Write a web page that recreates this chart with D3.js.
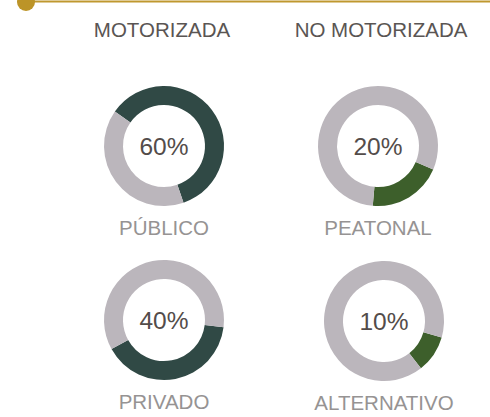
<!DOCTYPE html>
<html>
<head>
<meta charset="utf-8">
<script src="https://cdn.jsdelivr.net/npm/d3@7"></script>
<style>
  html, body { margin: 0; padding: 0; background: #fff; }
  svg { display: block; }
  text { font-family: "Liberation Sans", Arial, sans-serif; font-weight: 400; }
</style>
</head>
<body>
<svg id="chart" width="490" height="417"></svg>
<script>
// Modal split of trips, grouped by motorised / non-motorised
const groups = ["MOTORIZADA", "NO MOTORIZADA"];
const categories = ["PÚBLICO", "PRIVADO", "PEATONAL", "ALTERNATIVO"];
const categoryGroup = ["MOTORIZADA", "MOTORIZADA", "NO MOTORIZADA", "NO MOTORIZADA"];
const shares = [60, 40, 20, 10];

// Presentation
const groupColor = { "MOTORIZADA": "#304945", "NO MOTORIZADA": "#3d5f2b" };
const restColor = "#bbb6bc";
const arcStartDeg = [-55, 97, 113, 106];   // where each highlighted arc begins (clockwise from 12 o'clock)
const centerX = [164, 164, 378, 384];
const centerY = [146, 320, 146, 321];

const svg = d3.select("#chart");
const rOuter = 60, rInner = 41;

// Header rule with dot
svg.append("line")
  .attr("x1", 26).attr("x2", 490).attr("y1", 1.5).attr("y2", 1.5)
  .attr("stroke", "#bf982f").attr("stroke-width", 2);
svg.append("circle")
  .attr("cx", 26).attr("cy", 2).attr("r", 9).attr("fill", "#bc9428");

// Column headings
const colX = d3.scaleOrdinal().domain(groups).range([162, 381]);
svg.selectAll("text.group")
  .data(groups)
  .join("text")
  .attr("class", "group")
  .attr("x", d => colX(d))
  .attr("y", 37)
  .attr("text-anchor", "middle")
  .attr("font-size", 20.5)
  .attr("fill", "#5a5553")
  .text(d => d);

const arc = d3.arc().innerRadius(rInner).outerRadius(rOuter);
const rad = d => d * Math.PI / 180;

categories.forEach((cat, i) => {
  const v = shares[i];
  const a0 = rad(arcStartDeg[i]);
  const pie = d3.pie().sort(null).value(d => d.value)
    .startAngle(a0).endAngle(a0 + 2 * Math.PI);
  const slices = pie([
    { key: "share", value: v },
    { key: "rest", value: 100 - v }
  ]);

  const g = svg.append("g")
    .attr("transform", `translate(${centerX[i]},${centerY[i]})`);

  g.selectAll("path")
    .data(slices)
    .join("path")
    .attr("d", arc)
    .attr("fill", d => d.data.key === "share" ? groupColor[categoryGroup[i]] : restColor);

  g.append("text")
    .attr("x", 0)
    .attr("y", 9)
    .attr("text-anchor", "middle")
    .attr("font-size", 24.5)
    .attr("fill", "#534c4a")
    .text(d3.format("d")(v) + "%");

  g.append("text")
    .attr("x", 0)
    .attr("y", 89)
    .attr("text-anchor", "middle")
    .attr("font-size", 20.5)
    .attr("fill", "#969393")
    .text(cat);
});
</script>
</body>
</html>
